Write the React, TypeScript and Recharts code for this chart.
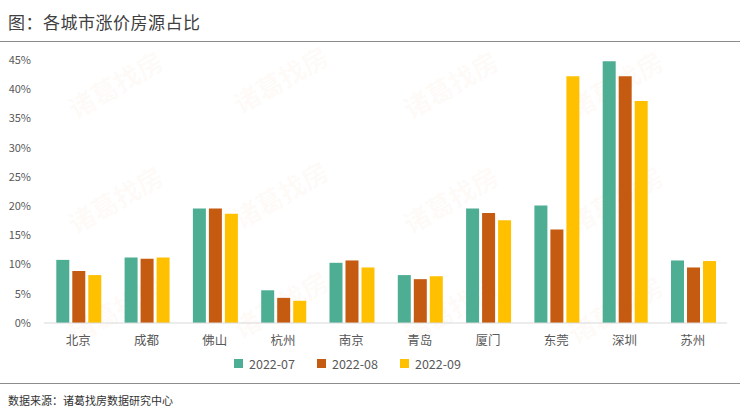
import { BarChart, Bar, XAxis, YAxis } from 'recharts'

const cities = ['北京', '成都', '佛山', '杭州', '南京', '青岛', '厦门', '东莞', '深圳', '苏州']
const jul = [10.8, 11.2, 19.6, 5.6, 10.3, 8.2, 19.6, 20.1, 44.8, 10.7]
const aug = [8.9, 11.0, 19.6, 4.3, 10.7, 7.5, 18.8, 16.0, 42.2, 9.5]
const sep = [8.2, 11.2, 18.7, 3.8, 9.5, 8.0, 17.6, 42.2, 38.0, 10.6]
const seriesNames = ['2022-07', '2022-08', '2022-09']
const yTicks = [0, 5, 10, 15, 20, 25, 30, 35, 40, 45]

const COLORS = ['#4EAE93', '#C55A11', '#FFC000']
const FONT = '"Noto Sans CJK SC", "Noto Sans", sans-serif'

// faint watermark positions
const marks = [
  [115, 80], [280, 75], [450, 80], [615, 80],
  [115, 195], [280, 190], [450, 195], [615, 195],
  [115, 305], [280, 300], [450, 305], [615, 305],
]

export default function App() {
  const data = cities.map((c, i) => ({ name: c, a: jul[i], b: aug[i], c: sep[i] }))

  return (
    <div style={{ position: 'absolute', left: 0, top: 0, width: 740, height: 410, background: '#fff', fontFamily: FONT, overflow: 'hidden' }}>
      <div style={{ position: 'absolute', left: 8, top: 9, fontSize: 17, color: '#404040', letterSpacing: 0.5 }}>
        图：各城市涨价房源占比
      </div>
      <div style={{ position: 'absolute', left: 0, top: 41, width: 740, height: 0, borderTop: '1.5px solid #8c8c8c' }} />

      {marks.map(([x, y], i) => (
        <div
          key={i}
          style={{
            position: 'absolute', left: x - 55, top: y - 15, width: 110, textAlign: 'center',
            fontSize: 26, fontWeight: 700, color: 'rgba(245, 190, 140, 0.07)',
            transform: 'rotate(-30deg)', pointerEvents: 'none',
          }}
        >
          诸葛找房
        </div>
      ))}

      <div style={{ position: 'absolute', left: 0, top: 0 }}>
        <BarChart
          width={740}
          height={355}
          data={data}
          margin={{ top: 60, right: 13, left: 0, bottom: 2 }}
          barCategoryGap="18%"
          barGap={3}
        >
          <XAxis
            dataKey="name"
            height={30}
            axisLine={{ stroke: '#D9D9D9' }}
            tickLine={false}
            tick={{ fontSize: 12.5, fill: '#595959', fontFamily: FONT }}
            tickMargin={7}
            interval={0}
          />
          <YAxis
            width={44}
            domain={[0, 45]}
            ticks={yTicks}
            axisLine={false}
            tickLine={false}
            tickMargin={7}
            tick={{ fontSize: 11, fill: '#595959', fontFamily: FONT }}
            tickFormatter={(v) => `${v}%`}
          />
          <Bar dataKey="a" name={seriesNames[0]} fill={COLORS[0]} isAnimationActive={false} />
          <Bar dataKey="b" name={seriesNames[1]} fill={COLORS[1]} isAnimationActive={false} />
          <Bar dataKey="c" name={seriesNames[2]} fill={COLORS[2]} isAnimationActive={false} />
        </BarChart>
      </div>

      <div style={{ position: 'absolute', left: 234, top: 354, display: 'flex', fontSize: 12.5, color: '#595959' }}>
        {seriesNames.map((n, i) => (
          <div key={n} style={{ display: 'flex', alignItems: 'center', marginRight: i < 2 ? 22 : 0 }}>
            <span style={{ width: 9, height: 9, background: COLORS[i], marginRight: 6, display: 'inline-block' }} />
            <span>{n}</span>
          </div>
        ))}
      </div>

      <div style={{ position: 'absolute', left: 0, top: 383, width: 740, height: 0, borderTop: '1px solid #8c8c8c' }} />
      <div style={{ position: 'absolute', left: 8, top: 392, fontSize: 11, color: '#333' }}>
        数据来源：诸葛找房数据研究中心
      </div>
    </div>
  )
}
